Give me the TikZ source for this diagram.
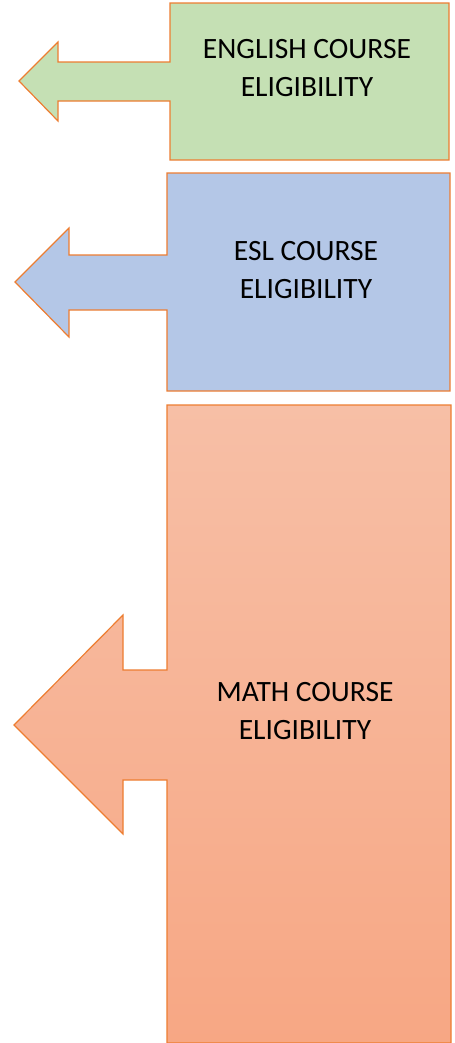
\documentclass[tikz,border=0pt]{standalone}
\usepackage{fontspec}
\setmainfont{Carlito}
\usepackage{xcolor}
\definecolor{outline}{HTML}{ED7D31}
\definecolor{english}{HTML}{C5E0B4}
\definecolor{esl}{HTML}{B4C7E7}
\definecolor{mathtop}{HTML}{F7BFA6}
\definecolor{mathbot}{HTML}{F7A784}

\begin{document}
\begin{tikzpicture}[
  x=1bp, y=-1bp,
  callout/.style={draw=outline, line width=1.2bp, line join=miter},
  label/.style={font=\fontsize{29.5bp}{38bp}\selectfont, align=center, inner sep=0pt}
]
  \useasboundingbox (0,0) rectangle (455,1043);

  % English course
  \draw[callout, fill=english] (19,81) -- (58,42) -- (58,62) -- (170,62) -- (170,3)
    -- (449,3) -- (449,160) -- (170,160) -- (170,101) -- (58,101) -- (58,121) -- cycle;
  \node[label] (english) at (307,68.5) {ENGLISH COURSE\\ELIGIBILITY};

  % ESL course
  \draw[callout, fill=esl] (15,282) -- (69,228) -- (69,255) -- (167,255) -- (167,173)
    -- (450,173) -- (450,391) -- (167,391) -- (167,310) -- (69,310) -- (69,337) -- cycle;
  \node[label] (esl) at (306,270) {ESL COURSE\\ELIGIBILITY};

  % Math course
  \draw[callout, top color=mathtop, bottom color=mathbot] (14,725) -- (123,615) -- (123,670)
    -- (167,670) -- (167,405) -- (451,405) -- (451,1043) -- (167,1043) -- (167,780)
    -- (123,780) -- (123,834) -- cycle;
  \node[label] (math) at (305,711) {MATH COURSE\\ELIGIBILITY};
\end{tikzpicture}
\end{document}
